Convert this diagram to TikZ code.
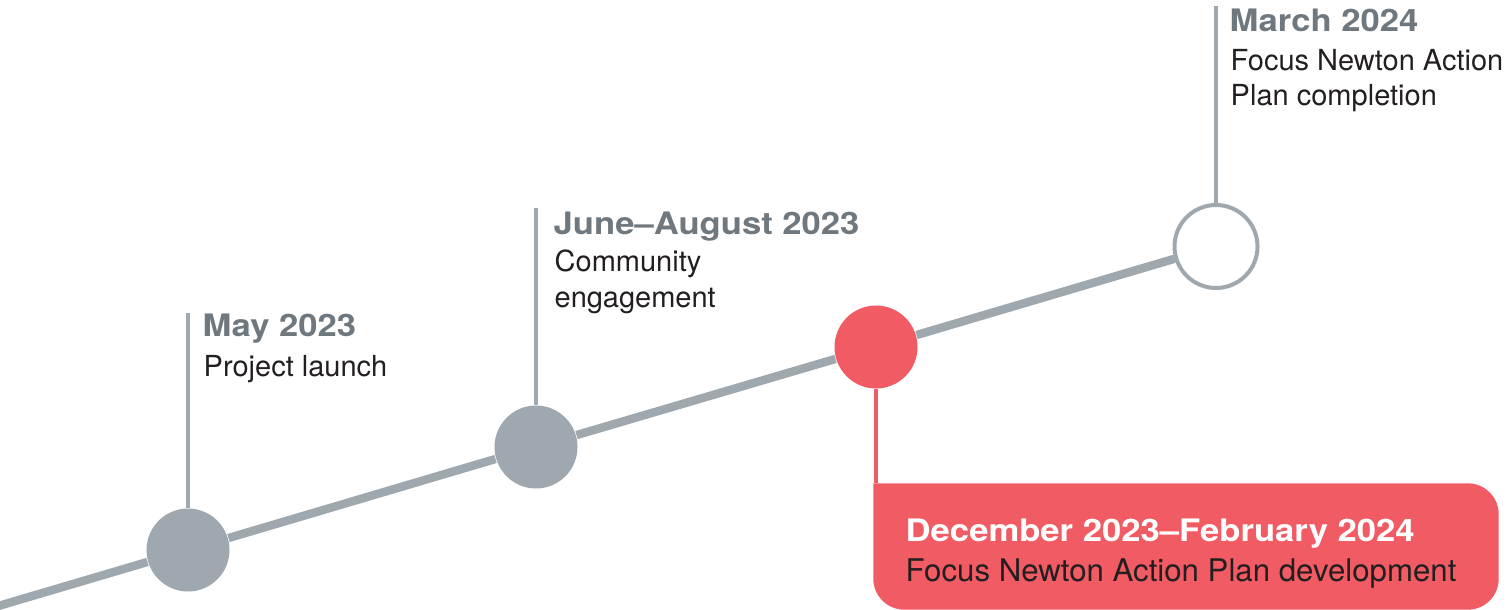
\documentclass[tikz,border=0pt]{standalone}
\usepackage{fontspec}
\setmainfont{TeX Gyre Heros}
\newfontfamily\headfont{TeX Gyre Heros}[FakeStretch=1.12]
\definecolor{railgray}{HTML}{A0A8AF}
\definecolor{dategray}{HTML}{6E787E}
\definecolor{inkdark}{HTML}{231F20}
\definecolor{accentred}{HTML}{F15B63}

\begin{document}
\begin{tikzpicture}[
  dot/.style={circle, fill=railgray, minimum size=8.3mm, inner sep=0pt},
  opendot/.style={circle, draw=railgray, line width=1.14pt, fill=white, minimum size=8.3mm, inner sep=0pt},
  rail/.style={draw=railgray, line width=2.4pt},
  stem/.style={draw=railgray, line width=1.3pt},
  panel/.style={minimum width=6.24cm, minimum height=1.25cm, inner sep=0pt},
  date/.style={anchor=base west, inner sep=0pt, text=dategray, font=\headfont\bfseries\fontsize{8.8}{10.6}\selectfont},
  note/.style={anchor=base west, inner sep=0pt, align=left, text=inkdark, font=\fontsize{8.25}{9.96}\selectfont}]

  \useasboundingbox (0,0) rectangle (15.11,6.09);

  % milestones on the rail
  \node[dot] (may) at (1.88, 0.59) {};
  \node[dot] (june) at (5.36, 1.62) {};
  \node[dot, fill=accentred] (dec) at (8.76, 2.62) {};
  \node[opendot] (march) at (12.16, 3.625) {};
  \coordinate (railstart) at (-0.1, 0.0055);
  \draw[rail] (railstart) -- (may) -- (june) -- (dec) -- (march);

  % May 2023
  \coordinate (maytop) at (1.88, 2.96);
  \draw[stem] (may) -- (maytop);
  \node[date] (maydate) at (2.02, 2.73) {May 2023};
  \node[note] (maynote) at (2.03, 2.33) {Project launch};

  % June-August 2023
  \coordinate (junetop) at (5.36, 4.01);
  \draw[stem] (june) -- (junetop);
  \node[date] (junedate) at (5.53, 3.74) {June–August 2023};
  \node[note] (junenote) at (5.54, 3.02) {Community\\engagement};

  % December 2023-February 2024
  \node[panel] (devbox) at (11.86, 0.625) {};
  \fill[accentred] (devbox.north west) -- ([xshift=-3.1mm]devbox.north east)
    arc[start angle=90, end angle=0, radius=3.1mm] -- ([yshift=3.1mm]devbox.south east)
    arc[start angle=0, end angle=-90, radius=3.1mm] -- ([xshift=3.1mm]devbox.south west)
    arc[start angle=270, end angle=180, radius=3.1mm] -- cycle;
  \draw[stem, draw=accentred] (dec) -- (dec |- devbox.north);
  \node[date, text=white] (devdate) at (9.05, 0.68) {December 2023–February 2024};
  \node[note, font=\fontsize{8.88}{10.7}\selectfont] (devnote) at (9.05, 0.28) {Focus Newton Action Plan development};

  % March 2024
  \coordinate (marchtop) at (12.16, 6.03);
  \draw[stem] (march) -- (marchtop);
  \node[date] (marchdate) at (12.29, 5.77) {March 2024};
  \node[note] (marchnote) at (12.30, 5.03) {Focus Newton Action\\Plan completion};

\end{tikzpicture}
\end{document}
